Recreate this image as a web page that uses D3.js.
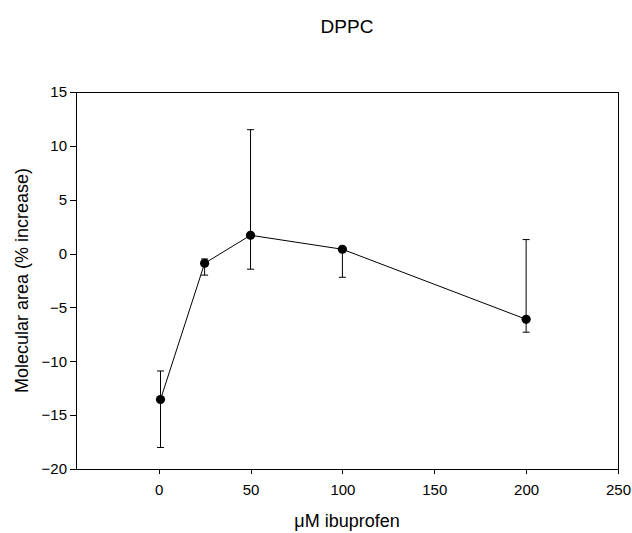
<!DOCTYPE html>
<head>
  <meta charset="utf-8">
  <script src="https://d3js.org/d3.v7.min.js"></script>
  <style>
    body { margin:0; background:#fff; }
    text { font-family: 'Liberation Sans', Arial, sans-serif; fill: #000; }
    .axis path, .axis line { stroke: #000; shape-rendering: crispEdges; }
    .axis text { font-size: 15px; }
    .frame { stroke: #000; shape-rendering: crispEdges; }
    .err { stroke: #000; stroke-width: 1; }
    .data-line { fill: none; stroke: #000; stroke-width: 1; }
    .label { font-size: 18px; }
  </style>
</head>
<body>
  <script>
    // data
    var concentrations = [1, 25, 50, 100, 200];
    var areaChange = [-13.55, -0.9, 1.7, 0.4, -6.1];
    var errUpper = [-10.9, -0.5, 11.5, 0.6, 1.3];
    var errLower = [-18.0, -2.0, -1.45, -2.2, -7.3];
    var xTicks = [0, 50, 100, 150, 200, 250];
    var yTicks = [-20, -15, -10, -5, 0, 5, 10, 15];

    var W = 632, H = 533;
    var plot = {left: 76, right: 618, top: 92, bottom: 469};

    var svg = d3.select("body").append("svg")
      .attr("width", W)
      .attr("height", H);

    var x = d3.scaleLinear()
      .domain([-45, 250])
      .range([plot.left, plot.right]);

    var y = d3.scaleLinear()
      .domain([-20, 15])
      .range([plot.bottom, plot.top]);

    var points = concentrations.map((c, i) => ({
      c: c, v: areaChange[i], hi: errUpper[i], lo: errLower[i]
    }));

    // frame (top and right)
    svg.append("line").attr("class", "frame")
      .attr("x1", plot.left).attr("x2", plot.right)
      .attr("y1", plot.top).attr("y2", plot.top);
    svg.append("line").attr("class", "frame")
      .attr("x1", plot.right).attr("x2", plot.right)
      .attr("y1", plot.top).attr("y2", plot.bottom);

    var xAxis = d3.axisBottom(x)
      .tickValues(xTicks)
      .tickSize(5)
      .tickSizeOuter(0)
      .tickPadding(10);

    var yAxis = d3.axisLeft(y)
      .tickValues(yTicks)
      .tickSize(6)
      .tickSizeOuter(0)
      .tickPadding(3);

    svg.append("g")
      .attr("class", "axis")
      .attr("transform", "translate(0," + plot.bottom + ")")
      .call(xAxis);

    svg.append("g")
      .attr("class", "axis")
      .attr("transform", "translate(" + plot.left + ",0)")
      .call(yAxis);

    // error bars
    var capW = 3.5;
    var eb = svg.append("g").selectAll("g")
      .data(points)
      .enter().append("g");
    eb.append("line").attr("class", "err")
      .attr("x1", d => x(d.c)).attr("x2", d => x(d.c))
      .attr("y1", d => y(d.hi)).attr("y2", d => y(d.lo));
    eb.append("line").attr("class", "err")
      .attr("x1", d => x(d.c) - capW).attr("x2", d => x(d.c) + capW)
      .attr("y1", d => y(d.hi)).attr("y2", d => y(d.hi));
    eb.append("line").attr("class", "err")
      .attr("x1", d => x(d.c) - capW).attr("x2", d => x(d.c) + capW)
      .attr("y1", d => y(d.lo)).attr("y2", d => y(d.lo));

    var line = d3.line()
      .x(d => x(d.c))
      .y(d => y(d.v));

    svg.append("path")
      .datum(points)
      .attr("class", "data-line")
      .attr("d", line);

    svg.append("g").selectAll("circle")
      .data(points)
      .enter().append("circle")
        .attr("cx", d => x(d.c))
        .attr("cy", d => y(d.v))
        .attr("r", 4.6)
        .style("fill", "#000");

    // titles
    var midX = (plot.left + plot.right) / 2;
    svg.append("text")
      .attr("class", "label")
      .attr("x", midX)
      .attr("y", 33)
      .attr("text-anchor", "middle")
      .style("font-size", "19px")
      .text("DPPC");

    svg.append("text")
      .attr("class", "label")
      .attr("x", midX)
      .attr("y", 527)
      .attr("text-anchor", "middle")
      .text("\u03bcM ibuprofen");

    svg.append("text")
      .attr("class", "label")
      .attr("transform", "translate(28," + ((plot.top + plot.bottom) / 2) + ") rotate(-90)")
      .attr("text-anchor", "middle")
      .text("Molecular area (% increase)");
  </script>
</body>
